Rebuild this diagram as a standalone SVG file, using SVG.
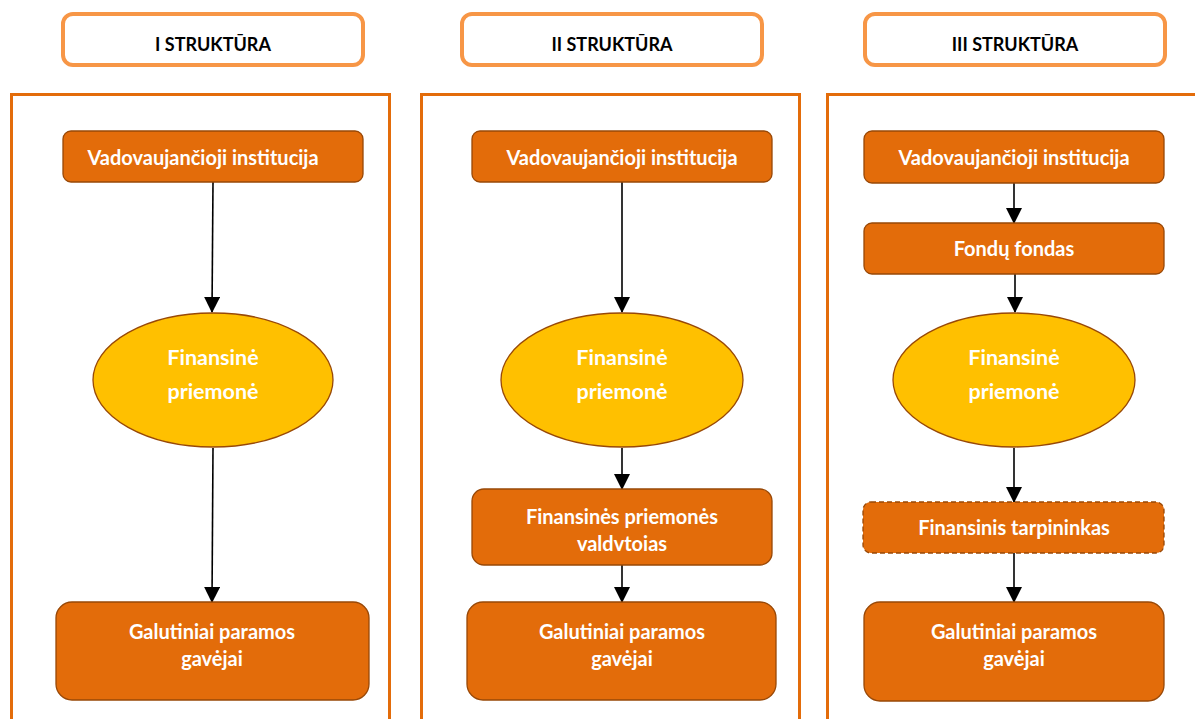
<svg xmlns="http://www.w3.org/2000/svg" width="1195" height="719" viewBox="0 0 1195 719">
<style>
.hdr{fill:#fff;stroke:#F79646;stroke-width:4}
.hdrt{font-family:Lato,"Liberation Sans",sans-serif;font-weight:bold;font-size:18px;fill:#000;text-anchor:middle}
.cont{fill:none;stroke:#E36C0A;stroke-width:3}
.box{fill:#E36C0A;stroke:#984807;stroke-width:1.3}
.dash{stroke-dasharray:5 3}
.ell{fill:#FFC000;stroke:#984807;stroke-width:1.3}
.t{font-family:Lato,"Liberation Sans",sans-serif;font-weight:bold;font-size:20px;fill:#fff;text-anchor:middle}
.te{font-family:Lato,"Liberation Sans",sans-serif;font-weight:bold;font-size:21.5px;fill:#fff;text-anchor:middle}
.c{stroke:#000;stroke-width:1.6;fill:none;marker-end:url(#ah)}
</style>
<defs>
<marker id="ah" markerUnits="userSpaceOnUse" markerWidth="16" markerHeight="16" viewBox="0 0 16 16" refX="15" refY="8" orient="auto">
<path d="M0,0 L16,8 L0,16 Z" fill="#000"/>
</marker>
</defs>
<rect width="1195" height="719" fill="#fff"/>
<g id="headers">
<g id="h1"><rect class="hdr" x="63" y="14" width="300" height="51" rx="10"/><text class="hdrt" x="213" y="51">I STRUKTŪRA</text></g>
<g id="h2"><rect class="hdr" x="462" y="14" width="300" height="51" rx="10"/><text class="hdrt" x="612" y="51">II STRUKTŪRA</text></g>
<g id="h3"><rect class="hdr" x="865" y="14" width="300" height="51" rx="10"/><text class="hdrt" x="1015" y="51">III STRUKTŪRA</text></g>
</g>
<g id="containers">
<rect class="cont" x="11.5" y="94.5" width="378" height="640"/>
<rect class="cont" x="421.5" y="94.5" width="378" height="640"/>
<rect class="cont" x="827.5" y="94.5" width="400" height="640"/>
</g>
<g id="connectors">
<line class="c" x1="213" y1="182" x2="212" y2="312"/>
<line class="c" x1="213" y1="448" x2="212" y2="602"/>
<line class="c" x1="622" y1="182" x2="622" y2="312"/>
<line class="c" x1="622" y1="448" x2="622" y2="489"/>
<line class="c" x1="622" y1="565" x2="622" y2="602"/>
<line class="c" x1="1014" y1="183" x2="1014" y2="223"/>
<line class="c" x1="1015" y1="274" x2="1015" y2="312"/>
<line class="c" x1="1014" y1="448" x2="1014" y2="502"/>
<line class="c" x1="1014" y1="553" x2="1014" y2="602"/>
</g>
<g id="n1a"><rect class="box" x="63" y="131" width="300" height="51" rx="8"/><text class="t" x="203" y="165">Vadovaujančioji institucija</text></g>
<g id="n1b"><ellipse class="ell" cx="213" cy="380" rx="120" ry="67"/><text class="te" x="213" y="365">Finansinė</text><text class="te" x="213" y="399">priemonė</text></g>
<g id="n1c"><rect class="box" x="56" y="602" width="313" height="98" rx="16"/><text class="t" x="212" y="639">Galutiniai paramos</text><text class="t" x="212" y="666">gavėjai</text></g>
<g id="n2a"><rect class="box" x="472" y="131" width="300" height="51" rx="8"/><text class="t" x="622" y="165">Vadovaujančioji institucija</text></g>
<g id="n2b"><ellipse class="ell" cx="622" cy="380" rx="121" ry="67"/><text class="te" x="622" y="365">Finansinė</text><text class="te" x="622" y="399">priemonė</text></g>
<g id="n2c"><rect class="box" x="472" y="489" width="300" height="76" rx="12"/><text class="t" x="622" y="524">Finansinės priemonės</text><text class="t" x="622" y="551">valdvtoias</text></g>
<g id="n2d"><rect class="box" x="467" y="602" width="309" height="98" rx="16"/><text class="t" x="622" y="639">Galutiniai paramos</text><text class="t" x="622" y="666">gavėjai</text></g>
<g id="n3a"><rect class="box" x="864" y="131" width="300" height="52" rx="8"/><text class="t" x="1014" y="165">Vadovaujančioji institucija</text></g>
<g id="n3b"><rect class="box" x="864" y="223" width="300" height="51" rx="8"/><text class="t" x="1014" y="256">Fondų fondas</text></g>
<g id="n3c"><ellipse class="ell" cx="1014" cy="380" rx="121" ry="67"/><text class="te" x="1014" y="365">Finansinė</text><text class="te" x="1014" y="399">priemonė</text></g>
<g id="n3d"><rect class="box dash" x="863" y="502" width="301" height="51" rx="8"/><text class="t" x="1014" y="535">Finansinis tarpininkas</text></g>
<g id="n3e"><rect class="box" x="864" y="602" width="300" height="99" rx="16"/><text class="t" x="1014" y="639">Galutiniai paramos</text><text class="t" x="1014" y="666">gavėjai</text></g>
</svg>
